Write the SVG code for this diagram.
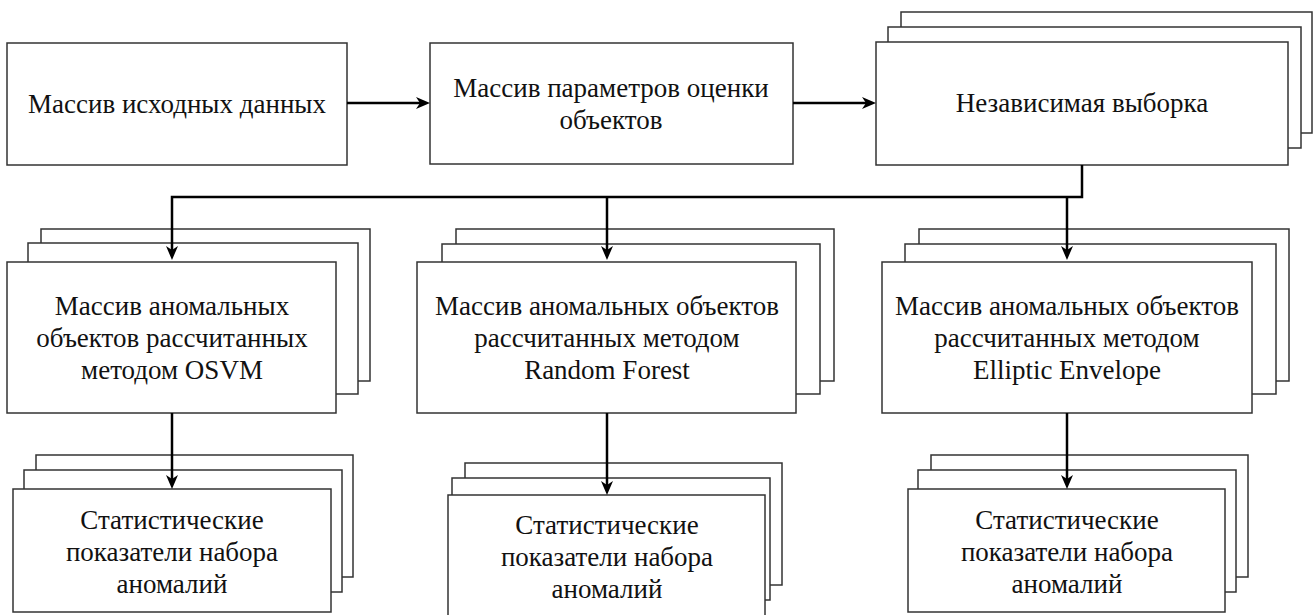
<svg xmlns="http://www.w3.org/2000/svg" width="1313" height="615" viewBox="0 0 1313 615">
<defs>
<marker id="ah" markerUnits="userSpaceOnUse" markerWidth="14" markerHeight="12" viewBox="0 0 14 12" refX="8" refY="6" orient="auto">
<path d="M0,0 L14,6 L0,12 L4,6 Z" fill="#000"/>
</marker>
</defs>
<rect width="1313" height="615" fill="#fff"/>
<g id="n1">
<rect fill="#fff" stroke="#333" stroke-width="1.5" x="7" y="43" width="340" height="122"/>
<text font-family="Liberation Serif" font-size="27" text-anchor="middle" fill="#111" x="177" y="113">Массив исходных данных</text>
</g>
<g id="n2">
<rect fill="#fff" stroke="#333" stroke-width="1.5" x="430" y="43" width="363" height="121"/>
<text font-family="Liberation Serif" font-size="27" text-anchor="middle" fill="#111" x="611" y="97">Массив параметров оценки</text>
<text font-family="Liberation Serif" font-size="27" text-anchor="middle" fill="#111" x="611" y="129">объектов</text>
</g>
<g id="n3">
<rect fill="#fff" stroke="#333" stroke-width="1.5" x="901" y="12" width="411" height="121"/>
<rect fill="#fff" stroke="#333" stroke-width="1.5" x="888" y="27" width="413" height="121"/>
<rect fill="#fff" stroke="#333" stroke-width="1.5" x="876" y="42" width="412" height="123"/>
<text font-family="Liberation Serif" font-size="27" text-anchor="middle" fill="#111" x="1082" y="112">Независимая выборка</text>
</g>
<g id="n4">
<rect fill="#fff" stroke="#333" stroke-width="1.5" x="41" y="229" width="329" height="152"/>
<rect fill="#fff" stroke="#333" stroke-width="1.5" x="28" y="243" width="330" height="151"/>
<rect fill="#fff" stroke="#333" stroke-width="1.5" x="7" y="262" width="329" height="151"/>
<text font-family="Liberation Serif" font-size="27" text-anchor="middle" fill="#111" x="172" y="315">Массив аномальных</text>
<text font-family="Liberation Serif" font-size="27" text-anchor="middle" fill="#111" x="172" y="347">объектов рассчитанных</text>
<text font-family="Liberation Serif" font-size="27" text-anchor="middle" fill="#111" x="172" y="379">методом OSVM</text>
</g>
<g id="n5">
<rect fill="#fff" stroke="#333" stroke-width="1.5" x="456" y="229" width="378" height="152"/>
<rect fill="#fff" stroke="#333" stroke-width="1.5" x="442" y="244" width="378" height="150"/>
<rect fill="#fff" stroke="#333" stroke-width="1.5" x="417" y="262" width="379" height="151"/>
<text font-family="Liberation Serif" font-size="27" text-anchor="middle" fill="#111" x="607" y="315">Массив аномальных объектов</text>
<text font-family="Liberation Serif" font-size="27" text-anchor="middle" fill="#111" x="607" y="347">рассчитанных методом</text>
<text font-family="Liberation Serif" font-size="27" text-anchor="middle" fill="#111" x="607" y="379">Random Forest</text>
</g>
<g id="n6">
<rect fill="#fff" stroke="#333" stroke-width="1.5" x="919" y="229" width="370" height="152"/>
<rect fill="#fff" stroke="#333" stroke-width="1.5" x="905" y="244" width="371" height="150"/>
<rect fill="#fff" stroke="#333" stroke-width="1.5" x="882" y="262" width="370" height="151"/>
<text font-family="Liberation Serif" font-size="27" text-anchor="middle" fill="#111" x="1067" y="315">Массив аномальных объектов</text>
<text font-family="Liberation Serif" font-size="27" text-anchor="middle" fill="#111" x="1067" y="347">рассчитанных методом</text>
<text font-family="Liberation Serif" font-size="27" text-anchor="middle" fill="#111" x="1067" y="379">Elliptic Envelope</text>
</g>
<g id="n7">
<rect fill="#fff" stroke="#333" stroke-width="1.5" x="36" y="455" width="317" height="122"/>
<rect fill="#fff" stroke="#333" stroke-width="1.5" x="24" y="470" width="318" height="122"/>
<rect fill="#fff" stroke="#333" stroke-width="1.5" x="13" y="489" width="318" height="123"/>
<text font-family="Liberation Serif" font-size="27" text-anchor="middle" fill="#111" x="172" y="529">Статистические</text>
<text font-family="Liberation Serif" font-size="27" text-anchor="middle" fill="#111" x="172" y="561">показатели набора</text>
<text font-family="Liberation Serif" font-size="27" text-anchor="middle" fill="#111" x="172" y="593">аномалий</text>
</g>
<g id="n8">
<rect fill="#fff" stroke="#333" stroke-width="1.5" x="465" y="463" width="317" height="122"/>
<rect fill="#fff" stroke="#333" stroke-width="1.5" x="452" y="478" width="318" height="122"/>
<rect fill="#fff" stroke="#333" stroke-width="1.5" x="448" y="495" width="317" height="125"/>
<text font-family="Liberation Serif" font-size="27" text-anchor="middle" fill="#111" x="607" y="534">Статистические</text>
<text font-family="Liberation Serif" font-size="27" text-anchor="middle" fill="#111" x="607" y="566">показатели набора</text>
<text font-family="Liberation Serif" font-size="27" text-anchor="middle" fill="#111" x="607" y="598">аномалий</text>
</g>
<g id="n9">
<rect fill="#fff" stroke="#333" stroke-width="1.5" x="931" y="455" width="317" height="122"/>
<rect fill="#fff" stroke="#333" stroke-width="1.5" x="918" y="470" width="318" height="122"/>
<rect fill="#fff" stroke="#333" stroke-width="1.5" x="908" y="489" width="317" height="123"/>
<text font-family="Liberation Serif" font-size="27" text-anchor="middle" fill="#111" x="1067" y="529">Статистические</text>
<text font-family="Liberation Serif" font-size="27" text-anchor="middle" fill="#111" x="1067" y="561">показатели набора</text>
<text font-family="Liberation Serif" font-size="27" text-anchor="middle" fill="#111" x="1067" y="593">аномалий</text>
</g>
<g id="connectors" fill="none" stroke="#000" stroke-width="2.5">
<path d="M347,103 H424" marker-end="url(#ah)"/>
<path d="M793,103 H870" marker-end="url(#ah)"/>
<path d="M1082,165 V197 H172 V254" marker-end="url(#ah)"/>
<path d="M607,197 V254" marker-end="url(#ah)"/>
<path d="M1067,197 V254" marker-end="url(#ah)"/>
<path d="M172,413 V483" marker-end="url(#ah)"/>
<path d="M607,413 V489" marker-end="url(#ah)"/>
<path d="M1067,413 V483" marker-end="url(#ah)"/>
</g>
</svg>
